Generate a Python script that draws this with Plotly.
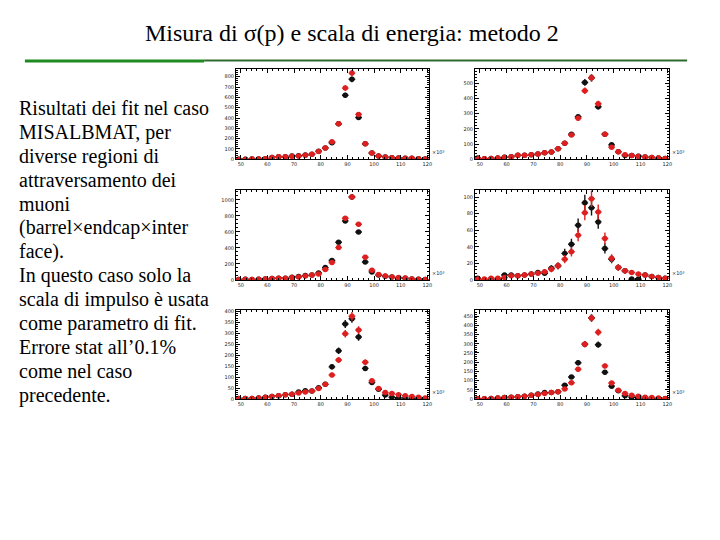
import math
import plotly.graph_objects as go

# ---------------- data ----------------
x_centers = [49.2, 51.7, 54.2, 56.7, 59.2, 61.7, 64.2, 66.7, 69.2, 71.7,
             74.2, 76.7, 79.2, 81.7, 84.2, 86.7, 89.2, 91.7, 94.2, 96.7,
             99.2, 101.7, 104.2, 106.7, 109.2, 111.7, 114.2, 116.7, 119.2]

p1_black = [0, 1, 2, 3, 6, 18, 25, 25, 32, 35, 42, 50, 78, 110, 160, 345, 620, 775, 405, 150, 61, 32, 22, 16, 13, 10, 10, 6, 3]
p1_red   = [0, 1, 2, 3, 6, 18, 25, 25, 30, 33, 40, 50, 75, 110, 170, 345, 690, 835, 435, 150, 61, 32, 22, 16, 13, 10, 10, 6, 3]

p2_black = [8, 4, 6, 8, 13, 17, 26, 26, 30, 35, 43, 48, 70, 105, 165, 280, 505, 535, 345, 165, 95, 50, 25, 25, 20, 15, 12, 8, 5]
p2_red   = [6, 4, 6, 8, 13, 17, 26, 26, 30, 35, 43, 48, 70, 105, 160, 270, 450, 535, 365, 165, 80, 50, 30, 25, 20, 15, 12, 8, 5]

p3_black = [4, 8, 4, 8, 12, 17, 21, 21, 33, 42, 54, 63, 88, 154, 242, 471, 738, 1038, 600, 225, 100, 60, 45, 35, 25, 20, 12, 8, 4]
p3_red   = [4, 8, 4, 8, 12, 17, 21, 21, 29, 38, 50, 60, 75, 130, 217, 404, 771, 1038, 696, 283, 121, 67, 50, 38, 29, 25, 12, 8, 4]

p4_black = [2, 0, 1, 1, 6, 6, 5, 6, 7, 9, 8, 14, 17, 32, 43, 66, 93, 87, 70, 38, 25, 15, 11, 1, 1, 6, 4, 3, 2]
p4_red   = [1, 1, 2, 2, 3, 5, 5, 6, 7, 8, 10, 13, 17, 25, 34, 54, 81, 98, 82, 50, 26, 15, 11, 9, 7, 6, 4, 3, 2]

p5_black = [2, 3, 3, 5, 8, 12, 15, 20, 22, 32, 38, 37, 52, 67, 147, 220, 343, 367, 283, 140, 75, 45, 18, 8, 5, 5, 3, 2, 1]
p5_red   = [2, 3, 3, 5, 8, 12, 15, 20, 22, 28, 32, 37, 48, 67, 110, 178, 298, 378, 315, 168, 83, 48, 30, 25, 20, 15, 12, 8, 5]

p6_black = [1, 2, 3, 5, 8, 10, 12, 15, 20, 28, 35, 35, 40, 75, 120, 197, 298, 440, 295, 145, 70, 45, 18, 10, 5, 5, 3, 2, 1]
p6_red   = [1, 2, 3, 5, 8, 10, 12, 15, 20, 25, 30, 35, 40, 55, 88, 162, 298, 440, 362, 180, 87, 48, 30, 20, 15, 10, 8, 5, 3]

y_max  = [870, 590, 1130, 109, 408, 485]
y_step = [100, 100, 200, 20, 50, 50]
y_minor = [20, 20, 50, 4, 10, 10]

x_ticks = [50, 60, 70, 80, 90, 100, 110, 120]
x_tick_labels = ["50", "60", "70", "80", "90", "100", "110", "120"]

title_text = "Misura di σ(p) e scala di energia: metodo 2"
body_lines = [
    "Risultati dei fit nel caso",
    "MISALBMAT, per",
    "diverse regioni di",
    "attraversamento dei",
    "muoni",
    "(barrel×endcap×inter",
    "face).",
    "In questo caso solo la",
    "scala di impulso è usata",
    "come parametro di fit.",
    "Errore stat all’0.1%",
    "come nel caso",
    "precedente.",
]

panels = [(p1_black, p1_red), (p2_black, p2_red), (p3_black, p3_red),
          (p4_black, p4_red), (p5_black, p5_red), (p6_black, p6_red)]

# ---------------- layout geometry (pixels) ----------------
W, H = 720, 540
col_px = [(237, 431), (477, 672)]
row_px = [(69, 159.5), (190, 281), (311, 401)]

BLACK = "#111111"
RED = "#dd1f1f"
SERIF = "Liberation Serif"

fig = go.Figure()
layout = dict(
    width=W, height=H, margin=dict(l=0, r=0, t=0, b=0),
    paper_bgcolor="white", plot_bgcolor="white", showlegend=False,
)

annotations = []
shapes = []

for i, (blk, red) in enumerate(panels):
    r, c = divmod(i, 2)
    x0, x1 = col_px[c]
    yt, yb = row_px[r]
    n = i + 1
    xa = "x" if n == 1 else f"x{n}"
    ya = "y" if n == 1 else f"y{n}"
    for vals, col in ((blk, BLACK), (red, RED)):
        fig.add_trace(go.Scatter(
            x=x_centers, y=vals, mode="markers", xaxis=xa, yaxis=ya,
            marker=dict(color=col, size=5.5, line=dict(width=0)),
            error_y=dict(type="data", array=[math.sqrt(v) for v in vals],
                         color=col, thickness=1.4, width=0),
            error_x=dict(type="constant", value=1.25, color=col,
                         thickness=1.4, width=0),
            hoverinfo="skip",
        ))
    axis_common = dict(showline=True, linecolor="black", linewidth=1,
                       mirror="allticks", ticks="inside", tickcolor="black",
                       showgrid=False, zeroline=False,
                       tickfont=dict(family="DejaVu Sans", size=5, color="#222"))
    layout[f"xaxis{'' if n == 1 else n}"] = dict(
        domain=[x0 / W, x1 / W], anchor=ya, range=[48.2, 120.7],
        tickvals=x_ticks, ticktext=x_tick_labels, ticklen=4,
        minor=dict(ticks="inside", ticklen=2, dtick=2, tick0=50, tickcolor="black"),
        **axis_common)
    layout[f"yaxis{'' if n == 1 else n}"] = dict(
        domain=[1 - yb / H, 1 - yt / H], anchor=xa, range=[0, y_max[i]],
        dtick=y_step[i], tick0=0, ticklen=4,
        minor=dict(ticks="inside", ticklen=2, dtick=y_minor[i], tickcolor="black"),
        **axis_common)
    annotations.append(dict(
        text="×10³", x=(x1 + 1) / W, y=1 - (yb - 2) / H, xref="paper", yref="paper",
        xanchor="left", yanchor="bottom", showarrow=False,
        font=dict(family="DejaVu Sans", size=5, color="#222")))

# title
annotations.append(dict(text=title_text, x=353 / W, y=1 - 32 / H, xref="paper", yref="paper",
                        xanchor="center", yanchor="middle", showarrow=False,
                        font=dict(family=SERIF, size=24, color="black")))
# body text
for k, line in enumerate(body_lines):
    annotations.append(dict(text=line, x=17 / W, y=1 - (108 + 24.1 * k) / H,
                            xref="paper", yref="paper", xanchor="left", yanchor="middle",
                            showarrow=False,
                            font=dict(family=SERIF, size=20, color="black")))

# green rule under the title
shapes.append(dict(type="line", xref="paper", yref="paper", x0=205 / W, x1=690 / W,
                   y0=1 - 60 / H, y1=1 - 60 / H, line=dict(color="#2f6b2f", width=2)))
shapes.append(dict(type="line", xref="paper", yref="paper", x0=25 / W, x1=205 / W,
                   y0=1 - 60.5 / H, y1=1 - 60.5 / H, line=dict(color="#1f8a1f", width=3)))

layout["annotations"] = annotations
layout["shapes"] = shapes
fig.update_layout(**layout)
fig.write_html("out.html", config={"displayModeBar": False},
               post_script="document.body.style.margin='0px';document.body.style.padding='0px';")
